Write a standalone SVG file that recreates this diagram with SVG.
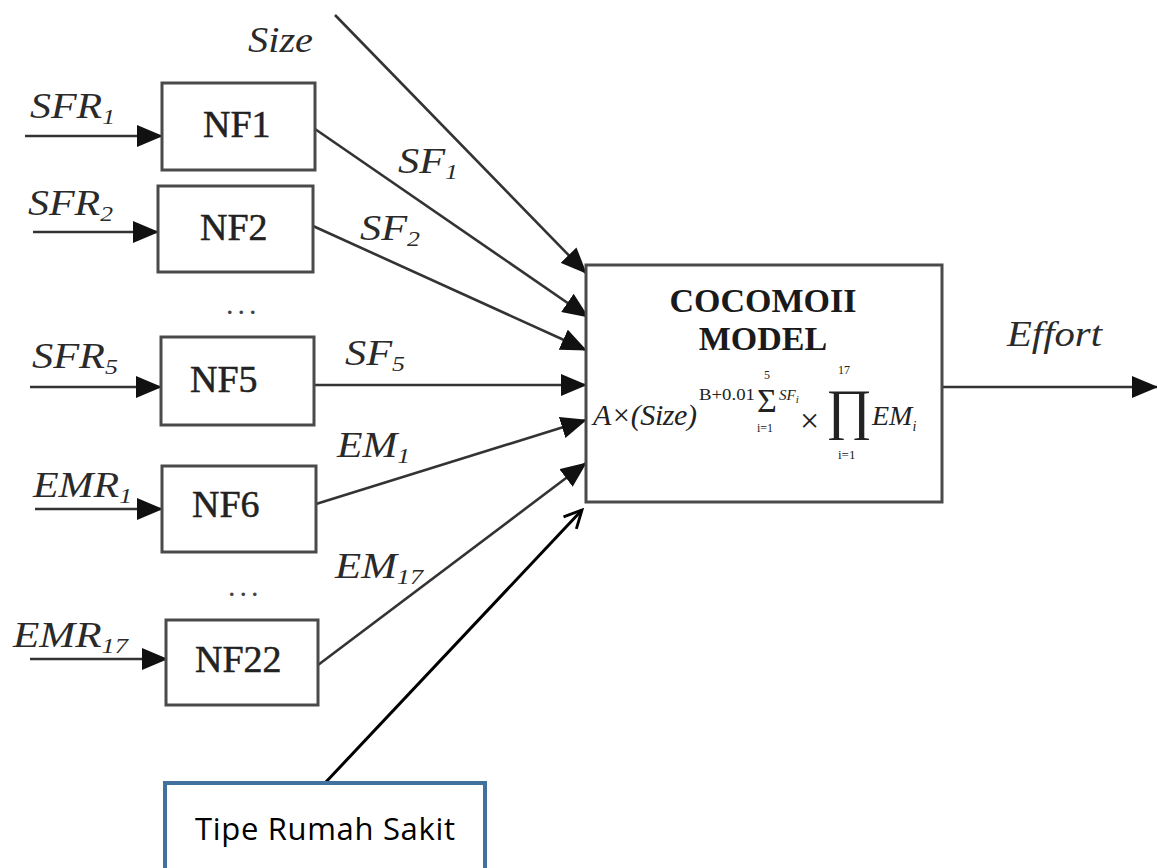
<svg xmlns="http://www.w3.org/2000/svg" width="1157" height="868" viewBox="0 0 1157 868">
  <style>
    .box { fill: #ffffff; stroke: #4a4a4a; stroke-width: 3; }
    .wire { fill: none; stroke: #333333; stroke-width: 2.6; }
    .lbl { font-family: "Liberation Serif", "Times New Roman", serif; font-style: italic; font-size: 36px; fill: #2a2a2a; }
    .sub { font-size: 22px; }
    .nf { font-family: "Liberation Serif", "Times New Roman", serif; font-size: 38px; fill: #222222; stroke: #222222; stroke-width: 0.5; }
    .title { font-family: "Liberation Serif", "Times New Roman", serif; font-weight: bold; font-size: 34px; fill: #1a1a1a; text-anchor: middle; }
    .math { font-family: "Liberation Serif", "Times New Roman", serif; fill: #222222; }
    .dots { font-family: "Liberation Serif", "Times New Roman", serif; font-size: 30px; letter-spacing: 4px; fill: #444444; }
    .callout { fill: #ffffff; stroke: #41719c; stroke-width: 4; }
    .calltext { font-family: "Open Sans", "Liberation Sans", sans-serif; font-size: 31px; fill: #000000; }
  </style>
  <defs>
    <marker id="tri" viewBox="0 0 26 22" refX="25" refY="11" markerWidth="26" markerHeight="22" markerUnits="userSpaceOnUse" orient="auto">
      <path d="M0,0 L26,11 L0,22 z" fill="#111111"/>
    </marker>
    <marker id="open" viewBox="0 0 20 20" refX="18" refY="10" markerWidth="22" markerHeight="22" markerUnits="userSpaceOnUse" orient="auto">
      <path d="M2,2 L18,10 L2,18" fill="none" stroke="#000000" stroke-width="2.6"/>
    </marker>
  </defs>

  <rect width="1157" height="868" fill="#ffffff"/>

  <!-- connectors -->
  <g id="connectors">
    <line class="wire" x1="25" y1="136" x2="162" y2="136" marker-end="url(#tri)"/>
    <line class="wire" x1="33" y1="232" x2="158" y2="232" marker-end="url(#tri)"/>
    <line class="wire" x1="30" y1="387" x2="161" y2="387" marker-end="url(#tri)"/>
    <line class="wire" x1="35" y1="509" x2="162" y2="509" marker-end="url(#tri)"/>
    <line class="wire" x1="30" y1="659" x2="167" y2="659" marker-end="url(#tri)"/>

    <line class="wire" x1="335" y1="15" x2="586" y2="273" marker-end="url(#tri)"/>
    <line class="wire" x1="315" y1="129" x2="588" y2="317" marker-end="url(#tri)"/>
    <line class="wire" x1="313" y1="226" x2="586" y2="350" marker-end="url(#tri)"/>
    <line class="wire" x1="314" y1="385" x2="586" y2="385" marker-end="url(#tri)"/>
    <line class="wire" x1="316" y1="504" x2="586" y2="420" marker-end="url(#tri)"/>
    <line class="wire" x1="318" y1="665" x2="586" y2="463" marker-end="url(#tri)"/>

    <line class="wire" x1="942" y1="387" x2="1157" y2="387" marker-end="url(#tri)"/>

    <line x1="325" y1="783" x2="582" y2="510" stroke="#000000" stroke-width="3" marker-end="url(#open)"/>
  </g>

  <!-- edge labels -->
  <g id="labels">
    <text class="lbl" x="248" y="52" textLength="65" lengthAdjust="spacingAndGlyphs">Size</text>
    <text class="lbl" x="30" y="118" textLength="85" lengthAdjust="spacingAndGlyphs">SFR<tspan class="sub" dy="6">1</tspan></text>
    <text class="lbl" x="28" y="215" textLength="85" lengthAdjust="spacingAndGlyphs">SFR<tspan class="sub" dy="6">2</tspan></text>
    <text class="lbl" x="32" y="368" textLength="86" lengthAdjust="spacingAndGlyphs">SFR<tspan class="sub" dy="6">5</tspan></text>
    <text class="lbl" x="33" y="497" textLength="99" lengthAdjust="spacingAndGlyphs">EMR<tspan class="sub" dy="6">1</tspan></text>
    <text class="lbl" x="13" y="647" textLength="115" lengthAdjust="spacingAndGlyphs">EMR<tspan class="sub" dy="6">17</tspan></text>

    <text class="lbl" x="398" y="173" textLength="60" lengthAdjust="spacingAndGlyphs">SF<tspan class="sub" dy="6">1</tspan></text>
    <text class="lbl" x="360" y="240" textLength="60" lengthAdjust="spacingAndGlyphs">SF<tspan class="sub" dy="6">2</tspan></text>
    <text class="lbl" x="345" y="365" textLength="60" lengthAdjust="spacingAndGlyphs">SF<tspan class="sub" dy="6">5</tspan></text>
    <text class="lbl" x="337" y="457" textLength="73" lengthAdjust="spacingAndGlyphs">EM<tspan class="sub" dy="6">1</tspan></text>
    <text class="lbl" x="335" y="578" textLength="88" lengthAdjust="spacingAndGlyphs">EM<tspan class="sub" dy="6">17</tspan></text>
    <text class="lbl" x="1007" y="346" textLength="95" lengthAdjust="spacingAndGlyphs">Effort</text>

    <text class="dots" x="226" y="314">...</text>
    <text class="dots" x="228" y="596">...</text>
  </g>

  <!-- neural-network factor nodes -->
  <g id="nf1"><rect class="box" x="162" y="83" width="153" height="87"/><text class="nf" x="203" y="137">NF1</text></g>
  <g id="nf2"><rect class="box" x="158" y="186" width="155" height="86"/><text class="nf" x="200" y="240">NF2</text></g>
  <g id="nf5"><rect class="box" x="161" y="337" width="153" height="88"/><text class="nf" x="190" y="392">NF5</text></g>
  <g id="nf6"><rect class="box" x="162" y="466" width="154" height="86"/><text class="nf" x="192" y="517">NF6</text></g>
  <g id="nf22"><rect class="box" x="166" y="620" width="152" height="85"/><text class="nf" x="195" y="672">NF22</text></g>

  <!-- COCOMO II model block -->
  <g id="cocomo">
    <rect class="box" x="586" y="265" width="356" height="237"/>
    <text class="title" x="763" y="312">COCOMOII</text>
    <text class="title" x="763" y="350">MODEL</text>
    <text class="math" x="593" y="425" font-size="30" font-style="italic" textLength="104">A×(Size)</text>
    <text class="math" x="699" y="400" font-size="16" textLength="56" lengthAdjust="spacingAndGlyphs">B+0.01</text>
    <text class="math" x="757" y="412" font-size="34">Σ</text>
    <text class="math" x="764" y="379" font-size="12">5</text>
    <text class="math" x="757" y="432" font-size="12">i=1</text>
    <text class="math" x="779" y="400" font-size="15" font-style="italic">SF<tspan font-size="11" dy="3">i</tspan></text>
    <text class="math" x="800" y="432" font-size="34">×</text>
    <text class="math" x="826" y="428" font-size="56">∏</text>
    <text class="math" x="838" y="374" font-size="12">17</text>
    <text class="math" x="838" y="459" font-size="13">i=1</text>
    <text class="math" x="872" y="425" font-size="28" font-style="italic">EM<tspan font-size="14" dy="6">i</tspan></text>
  </g>

  <!-- hospital type input -->
  <g id="tipe-rumah-sakit">
    <rect class="callout" x="165" y="783" width="320" height="100"/>
    <text class="calltext" x="195" y="840" textLength="260">Tipe Rumah Sakit</text>
  </g>
</svg>
